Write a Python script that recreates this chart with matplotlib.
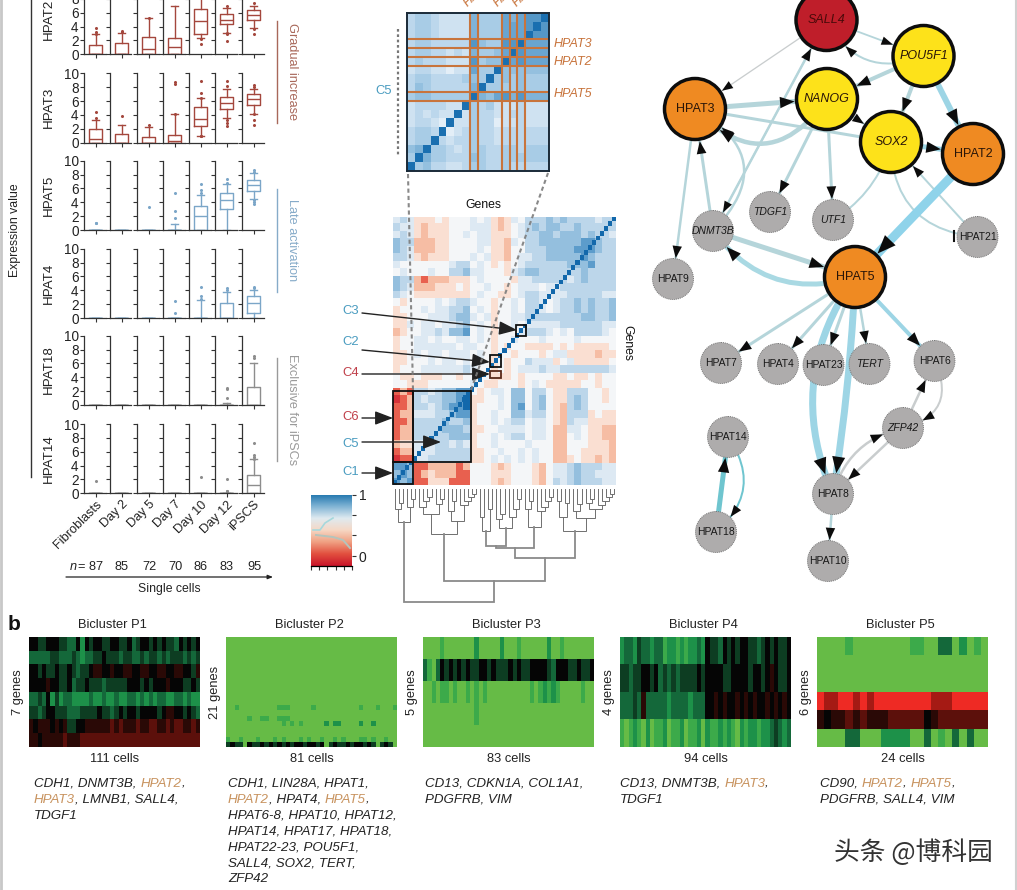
import matplotlib
matplotlib.use('Agg')
import matplotlib.pyplot as plt
import numpy as np
from matplotlib.colors import ListedColormap, LinearSegmentedColormap
from matplotlib.patches import Circle, FancyArrowPatch, Rectangle

plt.rcParams['font.family'] = ['Liberation Sans', 'DejaVu Sans']

W, H = 1017, 890

# --- a: box plots. each entry is q1, median, q3, whisker low, whisker high, fliers
DAYS = ['Fibroblasts', 'Day 2', 'Day 5', 'Day 7', 'Day 10', 'Day 12', 'iPSCS']
N_CELLS = [87, 85, 72, 70, 86, 83, 95]
HPAT2 = [(0, 0, 1.3, 0, 2.9, [3.0, 3.2, 3.8]), (0, 0, 1.6, 0, 3.1, [3.2, 3.3]),
         (0, 0.8, 2.5, 0, 5.2, [5.3]), (0, 1.0, 2.3, 0, 7.0, []),
         (2.9, 4.8, 6.5, 2.4, 9.0, [2.2, 1.5]), (4.4, 4.9, 5.8, 3.1, 6.7, [7.0, 3.0, 3.1, 1.9]),
         (5.0, 5.7, 6.4, 3.8, 7.0, [7.4, 3.7, 3.0])]
HPAT3 = [(0, 0.6, 2.0, 0, 3.3, [3.5, 4.5]), (0, 0, 1.2, 0, 2.5, [3.9]),
         (0, 0, 0.8, 0, 2.3, [2.5]), (0, 0.2, 1.1, 0, 4.1, [4.2, 8.5, 8.7]),
         (2.4, 3.4, 5.1, 1.0, 6.4, [0.9, 1.0, 6.5, 7.2, 8.9]),
         (4.9, 5.7, 6.6, 3.6, 7.8, [8.2, 8.9, 3.3, 2.9, 2.4]),
         (5.5, 6.3, 7.0, 4.2, 7.8, [8.0, 8.3, 4.2, 3.3, 2.6])]
HPAT5 = [(0, 0, 0, 0, 0, [1.0, 1.05]), (0, 0, 0, 0, 0, []), (0, 0, 0, 0, 0, [3.3]),
         (0, 0, 0, 0, 0.8, [1.8, 2.8, 5.4]), (0, 2.0, 3.5, 0, 5.1, [5.4, 5.8, 6.6]),
         (3.0, 4.4, 5.4, 0, 6.7, [6.8, 7.3]), (5.6, 6.5, 7.2, 4.5, 8.2, [8.4, 8.6, 4.4, 4.0, 3.8])]
HPAT4 = [(0, 0, 0, 0, 0, []), (0, 0, 0, 0, 0, []), (0, 0, 0, 0, 0, []),
         (0, 0, 0, 0, 0, [0.7, 2.5]), (0, 0, 0, 0, 2.6, [2.8, 3.2, 4.5]),
         (0, 0, 2.2, 0, 3.8, [4.0, 4.4]), (0.7, 2.2, 3.2, 0, 4.0, [4.3, 4.5])]
HPAT18 = [(0, 0, 0, 0, 0, []), (0, 0, 0, 0, 0, []), (0, 0, 0, 0, 0, []), (0, 0, 0, 0, 0, []),
          (0, 0, 0, 0, 0, []), (0, 0, 0, 0, 0.3, [1.0, 2.3, 2.5]), (0, 0, 2.6, 0, 6.0, [6.8, 7.0])]
HPAT14 = [(0, 0, 0, 0, 0, [1.8]), (0, 0, 0, 0, 0, []), (0, 0, 0, 0, 0, []), (0, 0, 0, 0, 0, []),
          (0, 0, 0, 0, 0, [2.3]), (0, 0, 0, 0, 0, [0.2, 0.3, 0.4, 2.0]),
          (0, 1.2, 2.7, 0, 4.9, [5.0, 5.3, 5.5, 7.3])]
ROWS = [('HPAT2', HPAT2, '#a4473d'), ('HPAT3', HPAT3, '#a4473d'), ('HPAT5', HPAT5, '#7ba6c8'),
        ('HPAT4', HPAT4, '#7ba6c8'), ('HPAT18', HPAT18, '#8d8d8d'), ('HPAT14', HPAT14, '#8d8d8d')]
ROW_BOTTOM = [54.3, 142.7, 230, 318, 405, 493.3]
COL_LEFT = [84, 110, 137, 163, 189, 215, 242]

# --- correlation heatmap, digit = colour class, top row first
CORR = ["56533343444545323546667676666566", "65532333444555323456767766766666",
        "56532333445455333456677677767665", "76622233444455332546677777788766",
        "76522233444454332446667777888766", "66532333444545332455667777787666",
        "54444444566454343456666667778666", "45444544667554443567766666676666",
        "76621222333454444355666665676666", "76522233343445443455545566666666",
        "65433333333454433456655556666655", "43444454566544344546654566767667",
        "34445455667454344546654566767667", "33444555677545344556666666677667",
        "33545545567454344545555566666655", "23445565778454344456665454666654",
        "34455454455454344544454444544444", "34455555545544343443333434333334",
        "33454554555454344344434553333233", "33444545545454343446555345333334",
        "34445555556544343455565566666665", "43343334434444333434444334334344",
        "44333444444543344434543333344344", "12166567788434554774664336664434",
        "01265667789334454774674336764434", "11266567889344454784674326764444",
        "12255566788344544775664326663433", "11266667667344545664554326553333",
        "12266667776334455554554225543322", "12266666777344545664554224543322",
        "23355566565344544445444224443332", "12255566666334454454544224433332",
        "01155666666334545454544223433232", "88711222212444323444324556766655",
        "78712322211444333444324556766555", "87811333111444323444324656766655"]
CORR_COLORS = ['#d6333a', '#e8604f', '#f6bda4', '#fadfd2', '#f4f6f8',
               '#dde9f3', '#bcd6ea', '#94bfde', '#5c9ccb', '#1268ab']
N_GENES = 55

# --- C5 zoom heatmap, top row = last gene
C5 = ["233211115333656779", "233211115333666797", "233211115333666977",
      "233222227433779666", "233221215334697666", "232221117344967666",
      "122110116339444444", "233222234393434333", "243222225933334333",
      "344333339546757555", "122221193231112111", "121211913221122111",
      "122109113220112111", "233290123221222222", "233921223221222222",
      "459332123322332333", "395332224322333333", "934221123322322222"]
C5_COLORS = ['#e3eef7', '#cfe2f1', '#bcd7ec', '#a8cce6', '#94c0df',
             '#7fb3d8', '#69a5d0', '#5497c7', '#3e88bd', '#1a6fb0']
C5_BANDS = [8, 12, 14]
C5_BAND_NAMES = ['HPAT5', 'HPAT2', 'HPAT3']
C5_BAND_COLOR = '#c8743c'

# colour bar
CB_COLORS = ['#c9142a', '#e2503f', '#f0a183', '#f6d8c5', '#dfeaf0', '#7fb3d4', '#2176ae']
CB_TRACE_X = [313, 320, 325, 333, 316, 333, 343, 350]
CB_TRACE_Y = [530, 530, 523, 518, 535, 537, 540, 548]

# dendrogram: (height, left, right), 0 is a leaf, heights in pixels below the leaves
def comb(*hs):
    node = 0
    for h in hs:
        node = (h, 0, node)
    return node

TREE = (113,
        (33, comb(14, 20), comb(10, 18)),
        (92,
         (45, (25, comb(8, 12, 18), comb(10, 15)), (32, comb(12, 22), comb(5, 8, 12, 16))),
         (69,
          (59,
           (57, (42, comb(28), comb(20)), (39, comb(25, 30), comb(10, 20, 28))),
           (38, comb(12, 20), comb(8, 12, 18, 22))),
          (42,
           (28, comb(12), comb(14)),
           (29, comb(15, 22), (20, comb(10, 14), comb(5, 8, 12, 16)))))))

# --- network
NODES_BIG = {'SALL4': (826.5, 20, '#bf1e2a', True), 'POU5F1': (923.5, 56, '#fde21a', True),
             'NANOG': (827, 99, '#fde21a', True), 'SOX2': (891, 142, '#fde21a', True),
             'HPAT3': (695, 109, '#ef8a22', False), 'HPAT2': (973, 154, '#ef8a22', False),
             'HPAT5': (855, 277, '#ef8a22', False)}
NODES_SMALL = {'DNMT3B': (713, 231, True), 'TDGF1': (770, 212, True), 'UTF1': (833, 220, True),
               'HPAT21': (977.5, 237, False), 'HPAT9': (673, 279, False), 'HPAT7': (721, 363, False),
               'HPAT4': (778, 364, False), 'HPAT23': (823.5, 365, False), 'TERT': (869.5, 364, True),
               'HPAT6': (934.5, 361, False), 'ZFP42': (903, 428, True), 'HPAT14': (728, 437, False),
               'HPAT18': (716, 532, False), 'HPAT8': (833, 494, False), 'HPAT10': (828, 561, False)}
PALE = '#b5d5da'
SKY = '#9dd5e5'
GREY = '#c9cdce'
TEAL = '#6fc5cf'
# source, target, width px, colour, curve, has head
EDGES = [('SALL4', 'POU5F1', 1.8, PALE, 0, True), ('SALL4', 'HPAT3', 1.3, GREY, 0, True),
         ('POU5F1', 'SALL4', 2, PALE, -0.45, True), ('POU5F1', 'NANOG', 4, PALE, 0, True),
         ('POU5F1', 'SOX2', 4, PALE, 0, True), ('POU5F1', 'HPAT2', 6, SKY, 0, True),
         ('HPAT3', 'NANOG', 5, PALE, 0, True), ('HPAT3', 'SOX2', 3, PALE, 0, False),
         ('NANOG', 'HPAT3', 4.5, PALE, -0.6, True), ('NANOG', 'SOX2', 2, PALE, 0, True),
         ('SOX2', 'HPAT2', 5, SKY, 0, True), ('NANOG', 'TDGF1', 3, PALE, 0, True),
         ('NANOG', 'UTF1', 3, PALE, 0, True), ('DNMT3B', 'SALL4', 2.5, PALE, 0, True),
         ('SALL4', 'DNMT3B', 1.5, PALE, 0, True), ('HPAT3', 'HPAT9', 2.5, PALE, 0, True),
         ('DNMT3B', 'HPAT3', 3, PALE, 0, True), ('DNMT3B', 'HPAT3', 2.5, PALE, 0.65, True),
         ('UTF1', 'SOX2', 2, PALE, 0.2, False), ('HPAT21', 'SOX2', 2, PALE, 0, True),
         ('SOX2', 'HPAT21', 2, PALE, 0.45, False), ('HPAT2', 'HPAT5', 9, '#8fd3ea', 0, True),
         ('DNMT3B', 'HPAT5', 5, PALE, 0, True), ('HPAT5', 'DNMT3B', 5, '#a9d9e3', -0.35, True),
         ('HPAT5', 'HPAT7', 3, PALE, 0, True), ('HPAT5', 'HPAT4', 3, PALE, 0, True),
         ('HPAT5', 'HPAT23', 3, PALE, 0, True), ('HPAT5', 'TERT', 2.5, PALE, 0, True),
         ('HPAT5', 'HPAT6', 4, SKY, 0, True), ('HPAT5', 'HPAT8', 7, SKY, 0.28, True),
         ('HPAT5', 'HPAT8', 7, SKY, -0.03, True), ('HPAT8', 'ZFP42', 2.5, GREY, -0.3, True),
         ('ZFP42', 'HPAT8', 2.5, GREY, 0, True), ('ZFP42', 'HPAT6', 2.5, GREY, 0, True),
         ('HPAT6', 'ZFP42', 2, GREY, -0.6, True), ('HPAT8', 'HPAT10', 2.5, PALE, 0, True),
         ('HPAT18', 'HPAT14', 5, TEAL, 0, True), ('HPAT14', 'HPAT18', 2, TEAL, -0.45, True)]

# --- b: biclusters, digit = colour class, one string per gene
BI_COLORS = ['#66bb46', '#3caa4a', '#1d9149', '#14683a', '#0d3d22',
             '#050505', '#2a0906', '#5c100b', '#a51a14', '#ee2a24']
P1 = ["5544555443352545544554453455454544354545", "3333344333432334454443443343443434443434",
      "5545445445434456655655665566556655665546", "5555655445344544434444455545455565554454",
      "3343524233222232232232233232323322332322", "4434554443334444544345455455554566554543",
      "6566656564455666666767666766776676776676", "6656666676667777777777777777777777777777"]
P2 = ["0" * 40] * 13 + ["0010000000001110000010000000000100010001", "0" * 40,
                        "0000010011001110000000000000000000000000",
                        "0000000000000101010000020220000200200000", "0" * 40, "0" * 40,
                        "1001000100010100010100100101000110100100",
                        "4544054454545454554554504544545545404540"]
P3 = ["0000100000002000002000100000020010000000", "3103545454544554544454544555543555445445",
      "0010110100101010000000000101212100000100", "0000000000001000000000000000000000000000",
      "0" * 40]
P4 = ["2332433233122121223254435454554434545445", "4434455453434344445455554455554554565445",
      "3334363333323333233355656556565655656565", "1012102011201120112021121210212212234323"]
P5 = ["000010000000011003302010", "0" * 24, "0" * 24, "988998989999999988899999",
      "656676766677777567777777", "000033000222200301030300"]
BI_NAMES = ['Bicluster P1', 'Bicluster P2', 'Bicluster P3', 'Bicluster P4', 'Bicluster P5']
BI_DATA = [P1, P2, P3, P4, P5]
BI_LEFT = [29, 226, 423, 620, 817]
BI_GENES = ['7 genes', '21 genes', '5 genes', '4 genes', '6 genes']
BI_CELLS = ['111 cells', '81 cells', '83 cells', '94 cells', '24 cells']
ORANGE = '#c8935f'
BI_TEXT = [
    [[('CDH1, DNMT3B, ', 0), ('HPAT2', 1), (',', 0)], [('HPAT3', 1), (', LMNB1, SALL4,', 0)], [('TDGF1', 0)]],
    [[('CDH1, LIN28A, HPAT1,', 0)], [('HPAT2', 1), (', HPAT4, ', 0), ('HPAT5', 1), (',', 0)],
     [('HPAT6-8, HPAT10, HPAT12,', 0)], [('HPAT14, HPAT17, HPAT18,', 0)], [('HPAT22-23, POU5F1,', 0)],
     [('SALL4, SOX2, TERT,', 0)], [('ZFP42', 0)]],
    [[('CD13, CDKN1A, COL1A1,', 0)], [('PDGFRB, VIM', 0)]],
    [[('CD13, DNMT3B, ', 0), ('HPAT3', 1), (',', 0)], [('TDGF1', 0)]],
    [[('CD90, ', 0), ('HPAT2', 1), (', ', 0), ('HPAT5', 1), (',', 0)], [('PDGFRB, SALL4, VIM', 0)]],
]


def digits(rows):
    return np.array([[int(c) for c in r] for r in rows])


def px_axes(x0, y0, x1, y1, **kw):
    return fig.add_axes([x0 / W, 1 - y1 / H, (x1 - x0) / W, (y1 - y0) / H], **kw)


fig = plt.figure(figsize=(W / 100, H / 100), dpi=100, facecolor='white')

# box plots
for r, (name, stats, col) in enumerate(ROWS):
    bottom = ROW_BOTTOM[r]
    for c, left in enumerate(COL_LEFT):
        ax = px_axes(left, bottom - 69.3, left + 21.5, bottom)
        q1, med, q3, lo, hi, fl = stats[c]
        line = dict(color=col, lw=1.0)
        ax.bxp([dict(q1=q1, med=med, q3=q3, whislo=lo, whishi=hi, fliers=fl)], positions=[0.54],
               widths=[0.62], boxprops=line, medianprops=line, whiskerprops=line, capprops=line,
               flierprops=dict(marker='o', ms=1.2, mfc=col, mec=col, ls='none'), manage_ticks=False)
        ax.set_xlim(0, 1)
        ax.set_ylim(0, 10)
        ax.patch.set_alpha(0)
        for s in ['top', 'right']:
            ax.spines[s].set_visible(False)
        ax.spines['left'].set_linewidth(0.9)
        ax.spines['bottom'].set_linewidth(0.9)
        ax.spines['left'].set_color('#333333')
        ax.spines['bottom'].set_color('#333333')
        ax.set_yticks([0, 2, 4, 6, 8, 10])
        ax.set_xticks([0.54])
        ax.tick_params(length=2.6, width=0.8, color='#333333', pad=1.2, labelsize=9.8, labelcolor='#222222')
        if c > 0:
            ax.set_yticklabels([])
        if r == len(ROWS) - 1:
            ax.set_xticklabels([DAYS[c]], rotation=45, ha='right', rotation_mode='anchor', fontsize=9.2,
                               color='#222222')
        else:
            ax.set_xticklabels([])

# correlation heatmap
ax = px_axes(393, 216.7, 616, 485)
ax.imshow(digits(CORR), cmap=ListedColormap(CORR_COLORS), vmin=0, vmax=9, aspect='auto',
          extent=(0, N_GENES, 0, N_GENES), interpolation='nearest')
diag = np.full((N_GENES, N_GENES), np.nan)
for g in range(N_GENES):
    diag[N_GENES - 1 - g, g] = 9
ax.imshow(diag, cmap=ListedColormap(CORR_COLORS), vmin=0, vmax=9, aspect='auto',
          extent=(0, N_GENES, 0, N_GENES), interpolation='nearest')
ax.axis('off')

# C5 zoom
ax = px_axes(407, 13, 549, 171)
ax.imshow(digits(C5), cmap=ListedColormap(C5_COLORS), vmin=0, vmax=9, aspect='auto',
          extent=(0, 18, 0, 18), interpolation='nearest')
for g in C5_BANDS:
    for e in (g, g + 1):
        ax.axvline(e, color=C5_BAND_COLOR, lw=1.5)
        ax.axhline(e, color=C5_BAND_COLOR, lw=1.5)
ax.set_xticks([])
ax.set_yticks([])
for s in ax.spines.values():
    s.set_linewidth(1.4)
    s.set_color('#1a2a38')

# colour bar
ax = px_axes(311, 495, 352, 566)
cb_map = LinearSegmentedColormap.from_list('cb', CB_COLORS)
ax.imshow(np.linspace(1, 0, 128)[:, None], cmap=cb_map, aspect='auto', extent=(0, 1, 0, 1))
ax.set_xticks(np.linspace(0, 1, 6))
ax.set_xticklabels([])
ax.yaxis.tick_right()
ax.set_yticks([0.14, 0.43, 0.72, 1.0])
ax.set_yticklabels(['0', '', '', '1'], fontsize=10, color='#222222')
ax.tick_params(length=3, width=0.8, color='#333333', pad=2)
for s in ['top', 'left', 'right']:
    ax.spines[s].set_visible(False)
ax.spines['bottom'].set_linewidth(0.9)

# biclusters
bi_map = ListedColormap(BI_COLORS)
for i, rows in enumerate(BI_DATA):
    ax = px_axes(BI_LEFT[i], 637, BI_LEFT[i] + 171, 747)
    ax.imshow(digits(rows), cmap=bi_map, vmin=0, vmax=9, aspect='auto', interpolation='nearest')
    ax.axis('off')

# everything else goes on one full figure axes in pixels
ov = fig.add_axes([0, 0, 1, 1], zorder=5)
ov.set_xlim(0, W)
ov.set_ylim(H, 0)
ov.axis('off')
ov.patch.set_alpha(0)

TXT = '#222222'
ov.plot([1, 1], [0, H], color='#c8c8c8', lw=2)
ov.plot([1015.5, 1015.5], [0, H], color='#d0d0d0', lw=1.5)

# panel a labels
for r, (name, stats, col) in enumerate(ROWS):
    ov.text(49, ROW_BOTTOM[r] - 35, name, rotation=90, ha='center', va='center', fontsize=9.6, color=TXT)
ov.plot([30.5, 30.5], [0, 477], color='#333333', lw=1)
ov.text(15, 230, 'Expression value', rotation=90, ha='center', va='center', fontsize=8.8, color=TXT)
SIDE = [(21, 123, 'Gradual increase', '#a8685a', 72), (189, 292, 'Late activation', '#86abc9', 240),
        (358, 461, 'Exclusive for iPSCs', '#9a9a9a', 410)]
for y0, y1, label, col, ym in SIDE:
    ov.plot([277, 277], [y0, y1], color=col, lw=1)
    ov.text(292, ym, label, rotation=270, ha='center', va='center', fontsize=9.2, color=col)
ov.text(70, 566.5, 'n', style='italic', ha='left', va='center', fontsize=9.2, color=TXT)
ov.text(103, 566.5, '= %d' % N_CELLS[0], ha='right', va='center', fontsize=9.2, color=TXT)
for i, n in enumerate(N_CELLS[1:], start=1):
    ov.text(COL_LEFT[i] + 12, 566.5, str(n), ha='center', va='center', fontsize=9.2, color=TXT)
ov.annotate('', xy=(273, 577), xytext=(66, 577),
            arrowprops=dict(arrowstyle='-|>,head_length=0.3,head_width=0.12', color='#222222', lw=0.9,
                            shrinkA=0, shrinkB=0))
ov.text(169, 589, 'Single cells', ha='center', va='center', fontsize=8.8, color=TXT)

# heatmap annotations
ov.plot([398, 398], [29, 155], color='#777777', lw=1.6, ls=(0, (1.2, 1.2)))
ov.plot([408, 413], [174, 390], color='#7c7c7c', lw=1.5, ls=(0, (2, 1.5)), alpha=0.9)
ov.plot([548, 471], [173, 390], color='#7c7c7c', lw=1.5, ls=(0, (2, 1.5)), alpha=0.9)
ov.text(384, 91.5, 'C5', ha='center', va='center', fontsize=9.4, color='#4a9cc0')
ov.text(483, 205, 'Genes', ha='center', va='center', fontsize=8.8, color='#111111')
ov.text(627, 343, 'Genes', rotation=270, ha='center', va='center', fontsize=8.8, color='#111111')
for name, g, ypos in zip(C5_BAND_NAMES, C5_BANDS, [94, 62, 44]):
    ov.text(554, ypos, name, style='italic', ha='left', va='center', fontsize=9, color=C5_BAND_COLOR)
for name, xpos in zip(C5_BAND_NAMES, [470, 500, 519]):
    ov.text(xpos, 9, name, style='italic', rotation=45, ha='left', va='bottom', rotation_mode='anchor',
            fontsize=9, color=C5_BAND_COLOR)
BOXES = [(393, 391, 413, 462), (413, 391, 471, 462), (393, 462, 413, 484), (490, 355, 501, 367),
         (490, 371, 501, 378), (516, 325, 526, 336)]
for x0, y0, x1, y1 in BOXES:
    ec = '#5a2a1a' if y0 == 371 else '#111111'
    ov.add_patch(Rectangle((x0, y0), x1 - x0, y1 - y0, fill=False, ec=ec, lw=1.3))
LABELS = [('C3', 311, '#4a9cc0', 362, 313, 517, 330), ('C2', 342, '#4a9cc0', 362, 350, 490, 362),
          ('C4', 373, '#c0404a', 362, 374, 490, 374), ('C6', 417, '#c0404a', 362, 418, 393, 418),
          ('C5', 444, '#4a9cc0', 362, 442, 441, 442), ('C1', 472, '#4a9cc0', 362, 473, 393, 473)]
for lab, yl, col, x0, y0, x1, y1 in LABELS:
    ov.text(351, yl, lab, ha='center', va='center', fontsize=9.4, color=col)
    ov.add_patch(FancyArrowPatch((x0, y0), (x1, y1), arrowstyle='-|>,head_length=11,head_width=4.2',
                                 mutation_scale=1, color='#222222', lw=1, shrinkA=0, shrinkB=0))
ov.plot(CB_TRACE_X[:4], CB_TRACE_Y[:4], color='#a6d8dc', lw=1.2)
ov.plot(CB_TRACE_X[4:], CB_TRACE_Y[4:], color='#b4c4bc', lw=1.4)


# dendrogram from the nested tree
leaf_w = 223 / N_GENES
counter = [0]


def draw_tree(node):
    if node == 0:
        x = 393 + (counter[0] + 0.5) * leaf_w
        counter[0] += 1
        return x, 0
    h, a, b = node
    xa, ha = draw_tree(a)
    xb, hb = draw_tree(b)
    grey = '#8a8a8a' if h > 50 else '#6f6f6f'
    lw = 1.3 if h > 50 else 0.7
    ov.plot([xa, xa, xb, xb], [489 + ha, 489 + h, 489 + h, 489 + hb], color=grey, lw=lw,
            solid_joinstyle='miter')
    return (xa + xb) / 2, h


draw_tree(TREE)

# network
pos = {k: (v[0], v[1], 32.5) for k, v in NODES_BIG.items()}
pos.update({k: (v[0], v[1], 21) for k, v in NODES_SMALL.items()})
PT = 0.72
for src, dst, w, col, rad, head in EDGES:
    xa, ya, ra = pos[src]
    xb, yb, rb = pos[dst]
    style = 'arc3,rad=%.2f' % rad
    ov.add_patch(FancyArrowPatch((xa, ya), (xb, yb), arrowstyle='-', connectionstyle=style, color=col,
                                 lw=w * PT, shrinkA=ra * PT, shrinkB=rb * PT, zorder=2))
    if head:
        hl = 7 + w * 0.7
        hw = 2.6 + w * 0.3
        ov.add_patch(FancyArrowPatch((xa, ya), (xb, yb),
                                     arrowstyle='-|>,head_length=%.1f,head_width=%.1f' % (hl, hw),
                                     mutation_scale=1, connectionstyle=style, color='#0c0c0c', lw=0,
                                     shrinkA=ra * PT, shrinkB=rb * PT, zorder=3))
ov.plot([954, 954], [231, 241], color='#111111', lw=1.5, zorder=3)

for name, (x, y, col, ital) in NODES_BIG.items():
    ov.add_patch(Circle((x, y), 30.5, fc=col, ec='#0d0d0d', lw=2.5, zorder=4))
    ov.text(x, y, name, ha='center', va='center', fontsize=9, style='italic' if ital else 'normal',
            color='#4a0a0a' if name == 'SALL4' else '#2a1608', zorder=5)
for name, (x, y, ital) in NODES_SMALL.items():
    ov.add_patch(Circle((x, y), 20.5, fc='#aeacac', ec='#777777', lw=0.7, ls=(0, (1, 1)), zorder=4))
    ov.text(x, y, name, ha='center', va='center', fontsize=7.5, style='italic' if ital else 'normal',
            color='#181818', zorder=5)

# panel b text
ov.text(8, 625, 'b', ha='left', va='center', fontsize=15, fontweight='bold', color='#111111')
fig.canvas.draw()
rend = fig.canvas.get_renderer()
for i, left in enumerate(BI_LEFT):
    mid = left + 85.5
    ov.text(mid - 2, 624.5, BI_NAMES[i], ha='center', va='center', fontsize=9.3, color=TXT)
    ov.text(mid, 759, BI_CELLS[i], ha='center', va='center', fontsize=9.3, color=TXT)
    ov.text(left - 11, 692, BI_GENES[i], rotation=90, ha='center', va='center', fontsize=9.3, color=TXT)
    for ln, parts in enumerate(BI_TEXT[i]):
        x = left + (5 if i == 0 else 2 if i < 3 else 0 if i == 3 else 3)
        y = 784 + ln * 15.9
        for seg, hot in parts:
            t = ov.text(x, y, seg, style='italic', ha='left', va='center', fontsize=9.6,
                        color=ORANGE if hot else TXT)
            x += t.get_window_extent(rend).width

ov.text(993, 853, '头条 @博科园', ha='right', va='center', fontsize=18.5, color='#333333',
        family=['Noto Sans CJK SC', 'DejaVu Sans'])

fig.savefig('out.png', dpi=100)
